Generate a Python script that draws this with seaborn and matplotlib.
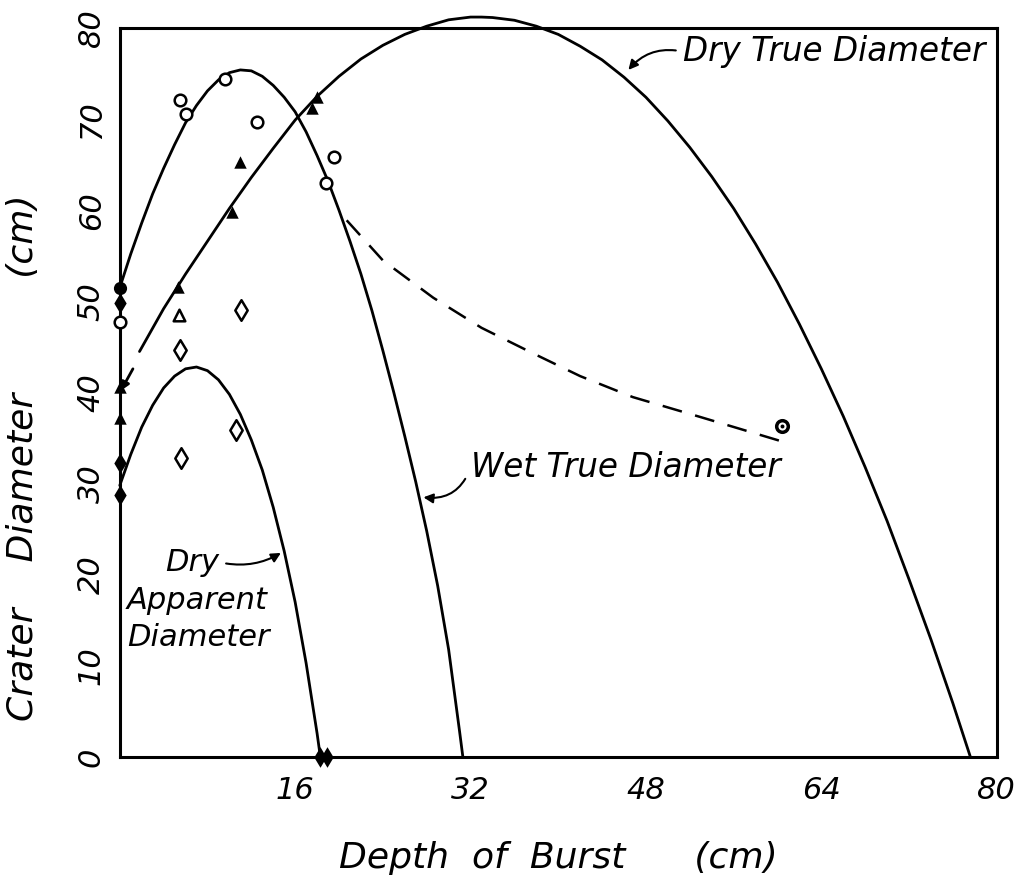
import matplotlib
matplotlib.use("Agg")
import matplotlib.pyplot as plt
import seaborn as sns

sns.set_theme(style="white")
plt.rcParams["font.family"] = ["DejaVu Sans"]
plt.rcParams["font.style"] = "italic"

# ---- fitted curves (depth of burst in cm, crater diameter in cm) ----
dry_true_x = [1.8, 4, 6, 8, 10, 12, 14, 16, 18, 20, 22, 24, 26, 28, 30, 32, 33, 34,
              36, 38, 40, 42, 44, 46, 48, 50, 52, 54, 56, 58, 60, 62, 64, 66, 68,
              70, 72, 74, 76, 77.6]
dry_true_y = [44.5, 49.2, 53.0, 56.6, 60.2, 63.6, 66.8, 69.9, 72.5, 74.7, 76.6, 78.1,
              79.3, 80.2, 80.9, 81.2, 81.2, 81.15, 80.85, 80.2, 79.3, 78.0, 76.5, 74.6,
              72.4, 69.8, 66.9, 63.7, 60.2, 56.3, 52.1, 47.5, 42.6, 37.4, 31.8,
              25.9, 19.5, 12.9, 5.9, 0.0]

wet_true_x = [0, 1, 2, 3, 4, 5, 6, 7, 8, 9, 10, 11, 12, 13, 14, 15, 16, 17, 18, 19,
              20, 21, 22, 23, 24, 25, 26, 27, 28, 29, 30, 31, 31.3]
wet_true_y = [51.5, 55.2, 58.6, 61.8, 64.6, 67.2, 69.6, 71.5, 73.1, 74.3, 75.1, 75.4,
              75.3, 74.7, 73.7, 72.4, 70.8, 68.6, 66.0, 63.2, 60.0, 56.6, 53.0, 49.0,
              44.6, 40.0, 35.2, 30.2, 24.8, 18.8, 11.8, 2.8, 0.0]

dry_app_x = [0, 1, 2, 3, 4, 5, 6, 7, 8, 9, 10, 11, 12, 13, 14, 15, 16, 17, 18, 18.3]
dry_app_y = [29.8, 33.2, 36.2, 38.6, 40.5, 41.8, 42.6, 42.8, 42.4, 41.4, 39.8, 37.6,
             34.8, 31.5, 27.4, 22.6, 17.0, 10.3, 2.6, 0.0]

wet_trend_x = [20.7, 24, 28.6, 33, 37.7, 42, 46.8, 53.0, 60.5]
wet_trend_y = [58.9, 54.5, 50.4, 47.1, 44.3, 41.8, 39.5, 37.3, 34.6]

# ---- measured points ----
open_circle_x = [5.5, 6.0, 9.6, 12.5, 19.5, 18.8, 0.0]
open_circle_y = [72.1, 70.6, 74.4, 69.7, 65.9, 63.0, 47.7]
dotted_circle_x = [60.4]
dotted_circle_y = [36.3]
filled_circle_x = [0.0]
filled_circle_y = [51.5]
filled_tri_x = [18.0, 17.5, 11.0, 10.2, 5.3, 0.0, 0.0]
filled_tri_y = [72.4, 71.2, 65.3, 59.8, 51.6, 40.6, 37.2]
open_tri_x = [5.4]
open_tri_y = [48.5]
open_diamond_x = [11.1, 10.6, 5.6, 5.5]
open_diamond_y = [49.1, 35.9, 32.8, 44.7]
filled_diamond_x = [0.0, 0.0, 0.0, 18.3, 18.9]
filled_diamond_y = [49.8, 32.3, 28.8, 0.0, 0.0]

x_ticks = [16, 32, 48, 64, 80]
y_ticks = [0, 10, 20, 30, 40, 50, 60, 70, 80]

fig = plt.figure(figsize=(10.15, 8.92), dpi=100)
ax = fig.add_axes([0.118, 0.1513, 0.864, 0.8173])

ink = "black"
lw = 2.0

for cx, cy in [(dry_true_x, dry_true_y), (wet_true_x, wet_true_y), (dry_app_x, dry_app_y)]:
    sns.lineplot(x=cx, y=cy, sort=False, color=ink, linewidth=lw, ax=ax,
                 clip_on=False, estimator=None)
sns.lineplot(x=wet_trend_x, y=wet_trend_y, sort=False, color=ink, linewidth=1.8,
             linestyle=(0, (8, 5.5)), ax=ax, estimator=None)

pts_style = dict(ax=ax, clip_on=False, zorder=5, legend=False)
sns.scatterplot(x=open_circle_x, y=open_circle_y, marker="o", s=70,
                facecolor="white", edgecolor=ink, linewidth=1.8, **pts_style)
sns.scatterplot(x=dotted_circle_x, y=dotted_circle_y, marker="o", s=70,
                facecolor="white", edgecolor=ink, linewidth=2.5, **pts_style)
sns.scatterplot(x=dotted_circle_x, y=dotted_circle_y, marker="o", s=8,
                color=ink, linewidth=0, **pts_style)
sns.scatterplot(x=filled_circle_x, y=filled_circle_y, marker="o", s=90,
                color=ink, linewidth=0, **pts_style)
sns.scatterplot(x=filled_tri_x, y=filled_tri_y, marker="^", s=80,
                color=ink, linewidth=0, **pts_style)
sns.scatterplot(x=open_tri_x, y=open_tri_y, marker="^", s=70,
                facecolor="white", edgecolor=ink, linewidth=1.8, **pts_style)
sns.scatterplot(x=open_diamond_x, y=open_diamond_y, marker="d", s=110,
                facecolor="white", edgecolor=ink, linewidth=1.8, **pts_style)
sns.scatterplot(x=filled_diamond_x, y=filled_diamond_y, marker="d", s=110,
                color=ink, linewidth=0, **pts_style)

ax.set_xlim(0, 80)
ax.set_ylim(0, 80)
ax.set_xticks(x_ticks)
ax.set_yticks(y_ticks)
ax.set_xticklabels([str(t) for t in x_ticks], fontsize=22)
ax.set_yticklabels([str(t) for t in y_ticks], fontsize=22, rotation=90, va="center")
ax.tick_params(axis="x", direction="in", length=7, width=1.5, colors=ink, pad=14)
ax.tick_params(axis="y", direction="in", length=7, width=1.5, colors=ink, pad=10)
for sp in ax.spines.values():
    sp.set_visible(True)
    sp.set_color(ink)
    sp.set_linewidth(2.2)

ax.set_xlabel("Depth  of  Burst      (cm)", fontsize=26, color=ink)
ax.xaxis.set_label_coords(0.5, -0.115)
ax.set_ylabel("Crater    Diameter          (cm)", fontsize=26, color=ink)
ax.yaxis.set_label_coords(-0.091, 0.41)

big = dict(fontsize=23.5, color=ink, style="italic")
small = dict(fontsize=22, color=ink, style="italic")
arrow = dict(arrowstyle="-|>", color=ink, lw=1.5, mutation_scale=14, shrinkA=3, shrinkB=0)

ax.annotate("Dry True Diameter", xy=(46.4, 75.4), xytext=(51.4, 77.4),
            ha="left", va="center",
            arrowprops=dict(arrow, relpos=(0, 0.5), connectionstyle="arc3,rad=0.3"), **big)
ax.annotate("Wet True Diameter", xy=(27.7, 28.5), xytext=(32.0, 31.8),
            ha="left", va="center",
            arrowprops=dict(arrow, relpos=(0, 0.5), connectionstyle="arc3,rad=-0.4"), **big)
ax.annotate("Dry", xy=(14.7, 22.4), xytext=(4.1, 21.4), ha="left", va="center",
            arrowprops=dict(arrow, relpos=(1, 0.5), connectionstyle="arc3,rad=0.2"), **small)
ax.text(0.65, 17.2, "Apparent", ha="left", va="center", **small)
ax.text(0.7, 13.1, "Diameter", ha="left", va="center", **small)
# short arrow carrying the dry true curve down to the axis
ax.annotate("", xy=(0.1, 40.2), xytext=(1.2, 42.6),
            arrowprops=dict(arrowstyle="-|>", color=ink, lw=2, mutation_scale=12,
                            shrinkA=0, shrinkB=0), annotation_clip=False)

fig.savefig("out.png", dpi=100, facecolor="white")
